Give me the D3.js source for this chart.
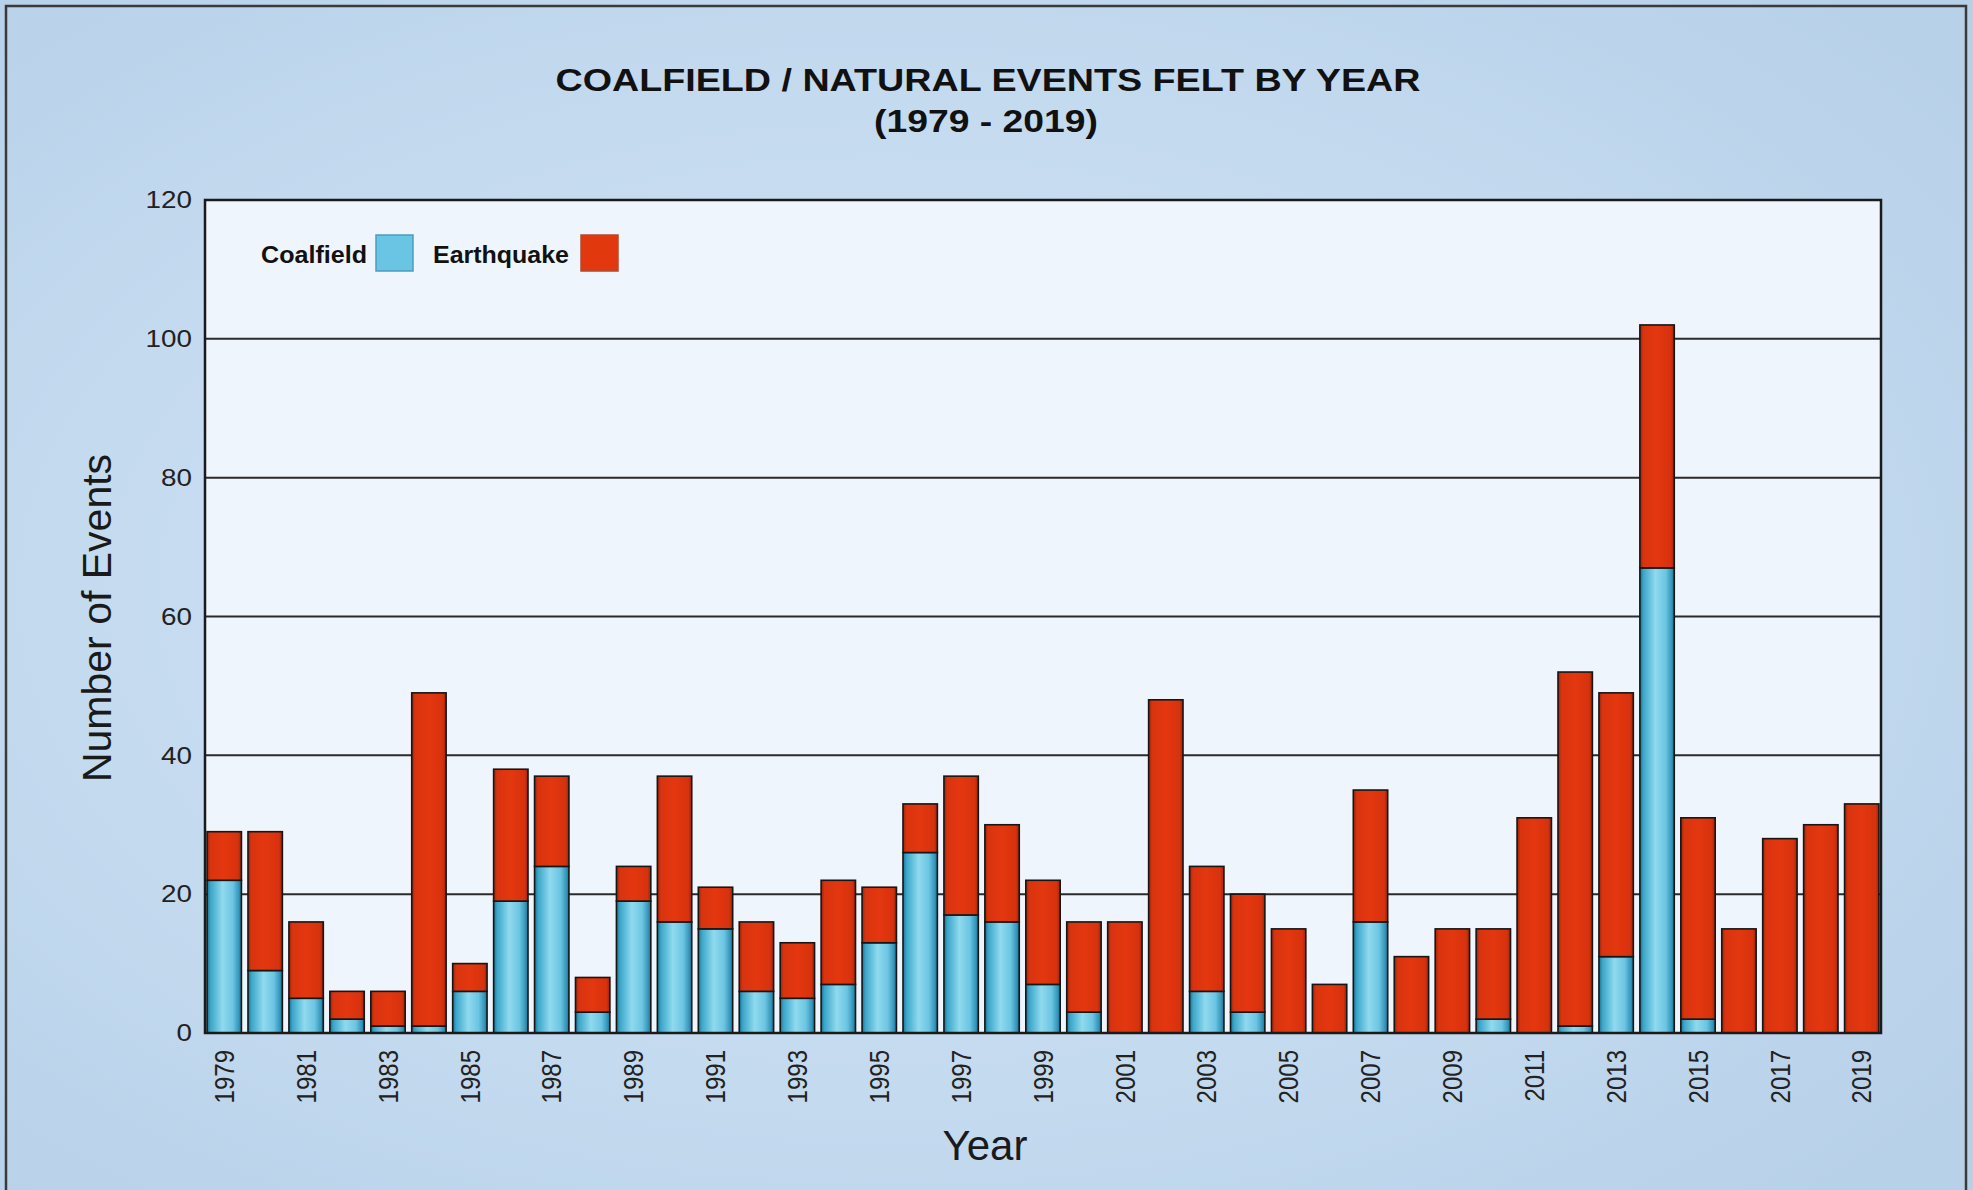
<!DOCTYPE html>
<html>
<head>
<meta charset="utf-8">
<script src="https://cdn.jsdelivr.net/npm/d3@7"></script>
<style>
  body { margin: 0; background: #c4daef; }
  svg { display: block; font-family: "Liberation Sans", Arial, sans-serif; }
</style>
</head>
<body>
<div id="chart"></div>
<script>
var years = [1979, 1980, 1981, 1982, 1983, 1984, 1985, 1986, 1987, 1988,
             1989, 1990, 1991, 1992, 1993, 1994, 1995, 1996, 1997, 1998,
             1999, 2000, 2001, 2002, 2003, 2004, 2005, 2006, 2007, 2008,
             2009, 2010, 2011, 2012, 2013, 2014, 2015, 2016, 2017, 2018, 2019];

var coalfield = [22, 9, 5, 2, 1, 1, 6, 19, 24, 3,
                 19, 16, 15, 6, 5, 7, 13, 26, 17, 16,
                 7, 3, 0, 0, 6, 3, 0, 0, 16, 0,
                 0, 2, 0, 1, 11, 67, 2, 0, 0, 0, 0];

var earthquake = [7, 20, 11, 4, 5, 48, 4, 19, 13, 5,
                  5, 21, 6, 10, 8, 15, 8, 7, 20, 14,
                  15, 13, 16, 48, 18, 17, 15, 7, 19, 11,
                  15, 13, 31, 51, 38, 35, 29, 15, 28, 30, 33];

var yTicks = [0, 20, 40, 60, 80, 100, 120];
var xTickYears = years.filter(function(d, i) { return i % 2 == 0; });

var width = 1973,
    height = 1190,
    marginLeft = 205, marginTop = 200,
    plotW = 1676, plotH = 833;

var svg = d3.select("#chart").append("svg")
    .attr("width", width)
    .attr("height", height);

var defs = svg.append("defs");

// soft blue backdrop
var bg = defs.append("radialGradient").attr("id", "bg")
    .attr("cx", "45%").attr("cy", "50%").attr("r", "70%");
bg.append("stop").attr("offset", "0%").attr("stop-color", "#d3e4f4");
bg.append("stop").attr("offset", "60%").attr("stop-color", "#c4daef");
bg.append("stop").attr("offset", "100%").attr("stop-color", "#b7d1e9");

// cylinder-ish shading on the bars
function barGradient(id, stops) {
  var g = defs.append("linearGradient").attr("id", id)
      .attr("x1", "0%").attr("x2", "100%").attr("y1", "0%").attr("y2", "0%");
  stops.forEach(function(s) {
    g.append("stop").attr("offset", s[0]).attr("stop-color", s[1]);
  });
}
barGradient("coalGrad", [["0%", "#1b6f8e"], ["10%", "#3aa6c9"], ["45%", "#8fdaee"],
                         ["75%", "#6cc5e2"], ["92%", "#3597bb"], ["100%", "#1b6f8e"]]);
barGradient("quakeGrad", [["0%", "#9c2409"], ["10%", "#d8340f"], ["50%", "#e4370f"],
                          ["90%", "#d6320e"], ["100%", "#9c2409"]]);

svg.append("rect")
    .attr("width", width).attr("height", height)
    .attr("fill", "url(#bg)");

// outer frame
svg.append("rect")
    .attr("x", 6).attr("y", 6)
    .attr("width", 1960).attr("height", 1220)
    .attr("fill", "none")
    .attr("stroke", "#3a3a3a")
    .attr("stroke-width", 2.5);

// titles
svg.append("text")
    .attr("x", 988).attr("y", 91)
    .attr("text-anchor", "middle")
    .attr("font-size", 31).attr("font-weight", "bold").attr("fill", "#111")
    .attr("textLength", 865).attr("lengthAdjust", "spacingAndGlyphs")
    .text("COALFIELD / NATURAL EVENTS FELT BY YEAR");

svg.append("text")
    .attr("x", 986).attr("y", 132)
    .attr("text-anchor", "middle")
    .attr("font-size", 31).attr("font-weight", "bold").attr("fill", "#111")
    .attr("textLength", 224).attr("lengthAdjust", "spacingAndGlyphs")
    .text("(1979 - 2019)");

var x = d3.scaleBand()
    .domain(years)
    .range([0, plotW])
    .paddingInner(0.16)
    .paddingOuter(0.05);

var y = d3.scaleLinear()
    .domain([0, 120])
    .range([plotH, 0]);

var g = svg.append("g")
    .attr("transform", "translate(" + marginLeft + "," + marginTop + ")");

g.append("rect")
    .attr("width", plotW).attr("height", plotH)
    .attr("fill", "#eef5fc");

// gridlines
g.selectAll(".grid")
    .data(yTicks.filter(function(d) { return d > 0 && d < 120; }))
    .enter().append("line")
    .attr("class", "grid")
    .attr("x1", 0).attr("x2", plotW)
    .attr("y1", function(d) { return y(d); })
    .attr("y2", function(d) { return y(d); })
    .attr("stroke", "#2a2a2a")
    .attr("stroke-width", 2);

var data = years.map(function(yr, i) {
  return { year: yr, coal: coalfield[i], quake: earthquake[i] };
});

var bars = g.selectAll(".bar")
    .data(data)
    .enter().append("g")
    .attr("class", "bar");

bars.filter(function(d) { return d.coal > 0; })
  .append("rect")
    .attr("x", function(d) { return x(d.year); })
    .attr("width", x.bandwidth())
    .attr("y", function(d) { return y(d.coal); })
    .attr("height", function(d) { return y(0) - y(d.coal); })
    .attr("fill", "url(#coalGrad)")
    .attr("stroke", "#161616")
    .attr("stroke-width", 1.6);

bars.filter(function(d) { return d.quake > 0; })
  .append("rect")
    .attr("x", function(d) { return x(d.year); })
    .attr("width", x.bandwidth())
    .attr("y", function(d) { return y(d.coal + d.quake); })
    .attr("height", function(d) { return y(d.coal) - y(d.coal + d.quake); })
    .attr("fill", "url(#quakeGrad)")
    .attr("stroke", "#161616")
    .attr("stroke-width", 1.6);

// plot border (top, left, right, bottom)
g.append("rect")
    .attr("width", plotW).attr("height", plotH)
    .attr("fill", "none")
    .attr("stroke", "#1a1a1a")
    .attr("stroke-width", 2.5);

// y axis
var yAxis = g.append("g")
    .call(d3.axisLeft(y).tickValues(yTicks).tickSize(0).tickPadding(13));
yAxis.select(".domain").remove();
yAxis.selectAll("text")
    .attr("font-family", "\"Liberation Sans\", Arial, sans-serif")
    .attr("font-size", 24)
    .attr("fill", "#222")
    .attr("textLength", function(d) { return String(d).length * 0.556 * 24 * 1.16; })
    .attr("lengthAdjust", "spacingAndGlyphs");

// x axis, every other year
var xAxis = g.append("g")
    .attr("transform", "translate(0," + plotH + ")")
    .call(d3.axisBottom(x).tickValues(xTickYears).tickSize(0));
xAxis.select(".domain").remove();
xAxis.selectAll("text")
    .attr("font-family", "\"Liberation Sans\", Arial, sans-serif")
    .attr("font-size", 24)
    .attr("fill", "#222")
    .attr("text-anchor", "end")
    .attr("x", -17)
    .attr("y", 0)
    .attr("dy", "0.35em")
    .attr("transform", "rotate(-90) scale(1,1.15)");

// axis titles
svg.append("text")
    .attr("transform", "translate(111,618) rotate(-90)")
    .attr("text-anchor", "middle")
    .attr("font-size", 41).attr("fill", "#1a1a1a")
    .text("Number of Events");

svg.append("text")
    .attr("x", 985).attr("y", 1160)
    .attr("text-anchor", "middle")
    .attr("font-size", 42).attr("fill", "#1a1a1a")
    .text("Year");

// legend
var legend = [
  { label: "Coalfield", tx: 261, tw: 106, sx: 376, fill: "#6ac4e4", stroke: "#4a9dbd" },
  { label: "Earthquake", tx: 433, tw: 136, sx: 581, fill: "#e2380e", stroke: "#b04a32" }
];
legend.forEach(function(l) {
  svg.append("text")
      .attr("x", l.tx).attr("y", 263)
      .attr("font-size", 23).attr("font-weight", "bold").attr("fill", "#111")
      .attr("textLength", l.tw).attr("lengthAdjust", "spacingAndGlyphs")
      .text(l.label);
  svg.append("rect")
      .attr("x", l.sx).attr("y", 235)
      .attr("width", 37).attr("height", 36)
      .attr("fill", l.fill)
      .attr("stroke", l.stroke)
      .attr("stroke-width", 1.5);
});
</script>
</body>
</html>
